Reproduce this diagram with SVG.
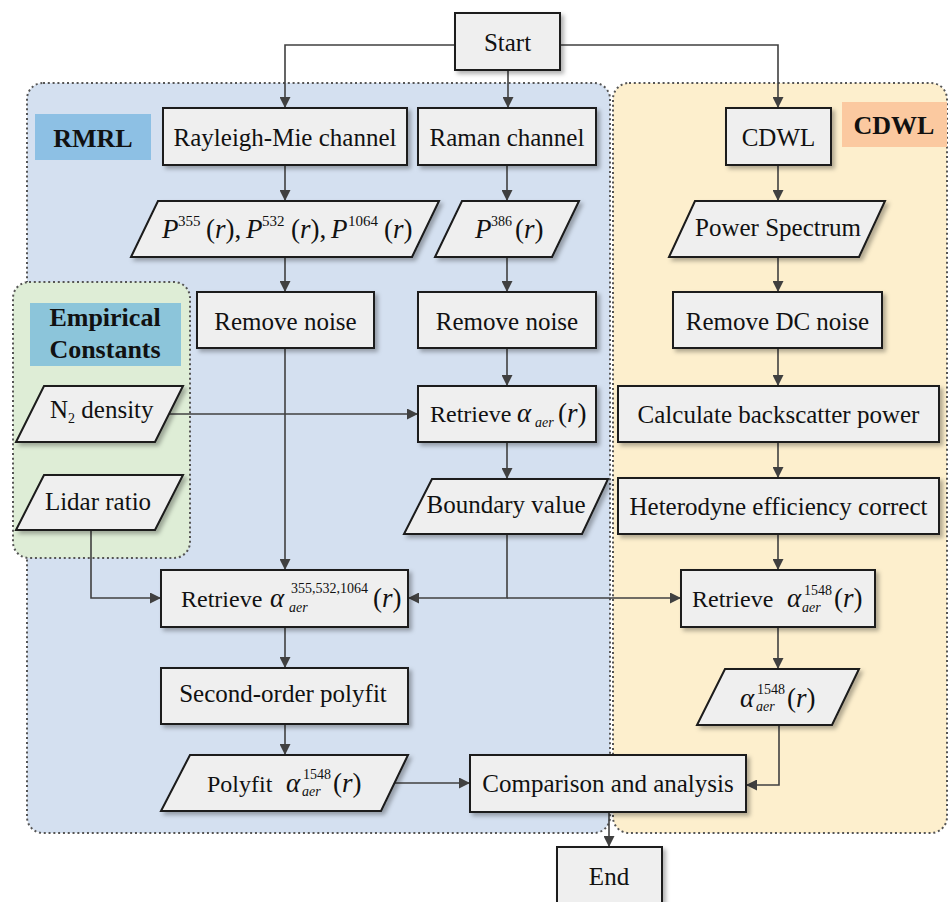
<svg xmlns="http://www.w3.org/2000/svg" width="949" height="902" viewBox="0 0 949 902">
<style>
text{font-family:"Liberation Serif","Times New Roman",serif;fill:#111;}
.t{font-size:25px;text-anchor:middle;}
.m{font-size:24px;}
.g{font-size:27px;}
.i{font-style:italic;}
.s{font-size:14px;}
.sp{font-size:15px;}
.b{font-weight:bold;font-size:26px;text-anchor:middle;}
.box{fill:#efefef;stroke:#1a1a1a;stroke-width:2;filter:url(#sh);}
.panel{stroke:#555;stroke-width:2;stroke-dasharray:2 2.8;}
.c{fill:none;stroke:#404040;stroke-width:1.6;}
</style>
<defs>
<filter id="sh" x="-10%" y="-20%" width="130%" height="150%">
<feDropShadow dx="3" dy="3" stdDeviation="2.2" flood-color="#000" flood-opacity="0.3"/>
</filter>
<marker id="a" viewBox="0 0 10 10" refX="10" refY="5" markerWidth="11" markerHeight="11" markerUnits="userSpaceOnUse" orient="auto">
<path d="M0,0 L10,5 L0,10 z" fill="#404040"/>
</marker>
</defs>
<rect width="949" height="902" fill="#fff"/>
<g id="panels">
<rect class="panel" x="27" y="83" width="583" height="750" rx="16" fill="#d4e0f0"/>
<rect class="panel" x="613" y="83" width="334" height="750" rx="16" fill="#fdefcd"/>
<rect class="panel" x="13" y="282" width="177" height="276" rx="16" fill="#deedd6"/>
<rect x="35" y="114" width="116" height="46" fill="#8dc0e4"/>
<text class="b" x="93" y="147">RMRL</text>
<rect x="842" y="102" width="105" height="45" fill="#fbc9a0"/>
<text class="b" x="894" y="134">CDWL</text>
<rect x="30" y="303" width="151" height="63" fill="#8cc5da"/>
<text class="b" x="105" y="326">Empirical</text>
<text class="b" x="105" y="358">Constants</text>
</g>
<g id="connectors">
<path class="c" d="M455,45 H285 V108" marker-end="url(#a)"/>
<path class="c" d="M508,70 V108" marker-end="url(#a)"/>
<path class="c" d="M560,45 H778 V108" marker-end="url(#a)"/>
<path class="c" d="M285,165 V201" marker-end="url(#a)"/>
<path class="c" d="M507,165 V201" marker-end="url(#a)"/>
<path class="c" d="M778,165 V201" marker-end="url(#a)"/>
<path class="c" d="M285,257 V292" marker-end="url(#a)"/>
<path class="c" d="M507,257 V292" marker-end="url(#a)"/>
<path class="c" d="M778,257 V292" marker-end="url(#a)"/>
<path class="c" d="M285,348 V570" marker-end="url(#a)"/>
<path class="c" d="M507,348 V386" marker-end="url(#a)"/>
<path class="c" d="M778,348 V386" marker-end="url(#a)"/>
<path class="c" d="M169,414 H418" marker-end="url(#a)"/>
<path class="c" d="M507,442 V479" marker-end="url(#a)"/>
<path class="c" d="M778,442 V478" marker-end="url(#a)"/>
<path class="c" d="M91,530 V598 H161" marker-end="url(#a)"/>
<path class="c" d="M507,534 V598 H408" marker-end="url(#a)"/>
<path class="c" d="M507,598 H681" marker-end="url(#a)"/>
<path class="c" d="M778,534 V570" marker-end="url(#a)"/>
<path class="c" d="M285,627 V668" marker-end="url(#a)"/>
<path class="c" d="M285,724 V755" marker-end="url(#a)"/>
<path class="c" d="M778,627 V669" marker-end="url(#a)"/>
<path class="c" d="M395,783 H470" marker-end="url(#a)"/>
<path class="c" d="M779,725 V785 H746" marker-end="url(#a)"/>
<path class="c" d="M609,812 V847" marker-end="url(#a)"/>
</g>
<g id="start"><rect class="box" x="455" y="13" width="105" height="57"/><text class="t" x="507.5" y="51">Start</text></g>
<g id="rayleigh"><rect class="box" x="163" y="108" width="244" height="57"/><text class="t" x="285" y="146">Rayleigh-Mie channel</text></g>
<g id="raman"><rect class="box" x="418" y="108" width="178" height="57"/><text class="t" x="507" y="146">Raman channel</text></g>
<g id="cdwl"><rect class="box" x="726" y="108" width="105" height="57"/><text class="t" x="778.5" y="146">CDWL</text></g>
<g id="p-rm"><polygon class="box" points="158,201 439,201 412,257 131,257"/>
<text class="g"><tspan class="i" x="162" y="238">P</tspan><tspan class="sp" x="178" y="226">355</tspan><tspan x="206" y="238">(</tspan><tspan class="i">r</tspan><tspan>),</tspan><tspan class="i" x="246" y="238">P</tspan><tspan class="sp" x="262" y="226">532</tspan><tspan x="291" y="238">(</tspan><tspan class="i">r</tspan><tspan>),</tspan><tspan class="i" x="331" y="238">P</tspan><tspan class="sp" x="348" y="226">1064</tspan><tspan x="384" y="238">(</tspan><tspan class="i">r</tspan><tspan>)</tspan></text></g>
<g id="p386"><polygon class="box" points="462,201 579,201 552,257 435,257"/>
<text class="g"><tspan class="i" x="475" y="238">P</tspan><tspan class="s" x="491" y="226">386</tspan><tspan x="515" y="238">(</tspan><tspan class="i">r</tspan><tspan>)</tspan></text></g>
<g id="power"><polygon class="box" points="695,201 885,201 859,257 669,257"/><text class="t" x="778" y="236">Power Spectrum</text></g>
<g id="rn1"><rect class="box" x="197" y="292" width="177" height="56"/><text class="t" x="285.5" y="330">Remove noise</text></g>
<g id="rn2"><rect class="box" x="418" y="292" width="178" height="56"/><text class="t" x="507" y="330">Remove noise</text></g>
<g id="rdc"><rect class="box" x="673" y="292" width="209" height="56"/><text class="t" x="777.5" y="330">Remove DC noise</text></g>
<g id="n2"><polygon class="box" points="44,386 183,386 155,442 16,442"/>
<text style="font-size:25px"><tspan x="50" y="418">N</tspan><tspan class="s" y="423">2</tspan><tspan y="418"> density</tspan></text></g>
<g id="lidar"><polygon class="box" points="44,475 183,475 155,530 16,530"/><text class="t" x="98" y="510">Lidar ratio</text></g>
<g id="ret-raman"><rect class="box" x="418" y="386" width="178" height="56"/>
<text class="m"><tspan x="430" y="422">Retrieve</tspan><tspan class="i g" x="517" y="422">α</tspan><tspan class="s i" x="535" y="427">aer</tspan><tspan class="g" x="558" y="422">(</tspan><tspan class="i g">r</tspan><tspan class="g">)</tspan></text></g>
<g id="cbp"><rect class="box" x="618" y="386" width="321" height="56"/><text class="t" x="778.5" y="423">Calculate backscatter power</text></g>
<g id="bv"><polygon class="box" points="432,479 608,479 582,534 404,534"/><text class="t" x="506" y="513">Boundary value</text></g>
<g id="hec"><rect class="box" x="618" y="478" width="321" height="56"/><text class="t" x="778.5" y="515">Heterodyne efficiency correct</text></g>
<g id="ret355"><rect class="box" x="161" y="570" width="247" height="57"/>
<text class="m"><tspan x="181" y="607">Retrieve</tspan><tspan class="i g" x="270" y="607">α</tspan><tspan class="s" x="291" y="593">355,532,1064</tspan><tspan class="s i" x="289" y="612">aer</tspan><tspan class="g" x="373" y="607">(</tspan><tspan class="i g">r</tspan><tspan class="g">)</tspan></text></g>
<g id="ret1548"><rect class="box" x="681" y="570" width="194" height="57"/>
<text class="m"><tspan x="692" y="607">Retrieve</tspan><tspan class="i g" x="787" y="607">α</tspan><tspan class="s" x="804" y="595">1548</tspan><tspan class="s i" x="802" y="612">aer</tspan><tspan class="g" x="834" y="607">(</tspan><tspan class="i g">r</tspan><tspan class="g">)</tspan></text></g>
<g id="sop"><rect class="box" x="161" y="668" width="247" height="56"/><text class="t" x="283" y="702">Second-order polyfit</text></g>
<g id="a1548"><polygon class="box" points="725,669 859,669 832,725 697,725"/>
<text class="m"><tspan class="i g" x="740" y="707">α</tspan><tspan class="s" x="757" y="694">1548</tspan><tspan class="s i" x="756" y="711">aer</tspan><tspan class="g" x="787" y="707">(</tspan><tspan class="i g">r</tspan><tspan class="g">)</tspan></text></g>
<g id="polyfit"><polygon class="box" points="190,755 408,755 381,811 161,811"/>
<text class="m"><tspan x="207" y="792">Polyfit</tspan><tspan class="i g" x="286" y="792">α</tspan><tspan class="s" x="303" y="779">1548</tspan><tspan class="s i" x="302" y="796">aer</tspan><tspan class="g" x="333" y="792">(</tspan><tspan class="i g">r</tspan><tspan class="g">)</tspan></text></g>
<g id="comp"><rect class="box" x="470" y="755" width="276" height="57"/><text class="t" x="608" y="792">Comparison and analysis</text></g>
<g id="end"><rect class="box" x="557" y="847" width="105" height="62"/><text class="t" x="609" y="885">End</text></g>
</svg>
